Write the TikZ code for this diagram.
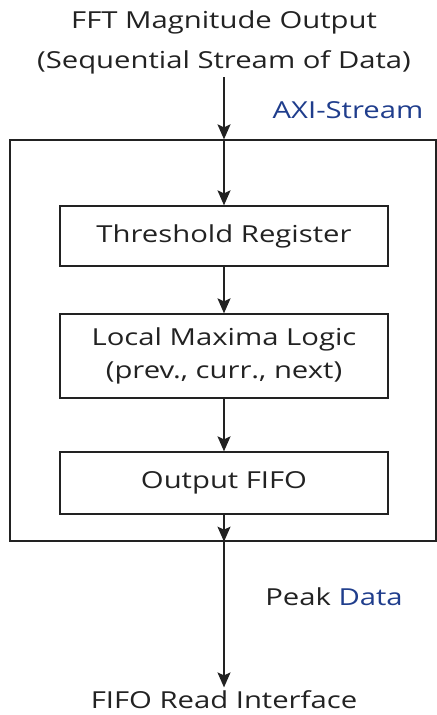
\documentclass[tikz,border=0pt]{standalone}
\usepackage{fontspec}
\setmainfont[FakeStretch=1.25]{Open Sans}
\usepackage{tikz}
\usetikzlibrary{arrows.meta, positioning, calc}
\definecolor{ink}   {HTML}{222222}
\definecolor{axi}   {HTML}{1F3D8C}

\begin{document}
\begin{tikzpicture}[x=1bp, y=-1bp, font=\fontsize{23.5}{33}\selectfont, ink,
    block/.style={draw=ink, line width=1.3bp, minimum width=328bp, align=center, inner sep=0pt},
    flow/.style={-{Stealth[length=15bp, width=13bp, inset=3bp]}, line width=1.6bp, ink}]
  \useasboundingbox (0,0) rectangle (437,715);
  % outer wrapper
  \node[draw=ink, line width=1.3bp, minimum width=426bp, minimum height=401bp, inner sep=0pt] (wrap) at (223,340.5) {};
  \node (src1) at (224,22) {FFT Magnitude Output};
  \node (src2) at (224,62) {(Sequential Stream of Data)};
  \node[text=axi] (axis) at (348,110) {AXI-Stream};
  % inner pipeline
  \node[block, minimum height=60bp] (thr) at (224,236) {Threshold Register};
  \node[block, minimum height=84bp] (lmax) at (224,356) {Local Maxima Logic\\(prev., curr., next)};
  \node[block, minimum height=62bp] (ofifo) at (224,483) {Output FIFO};
  \node (rd) at (224,700) {FIFO Read Interface};
  \node (peak) at (334,597) {Peak \textcolor{axi}{Data}};
  \draw[flow] (src2.south) -- (src2.south |- wrap.north);
  \draw[flow] (src2.south |- wrap.north) -- (thr);
  \draw[flow] (thr) -- (lmax);
  \draw[flow] (lmax) -- (ofifo);
  \draw[flow] (ofifo) -- (ofifo |- wrap.south);
  \draw[flow] (ofifo |- wrap.south) -- (rd);
\end{tikzpicture}
\end{document}
